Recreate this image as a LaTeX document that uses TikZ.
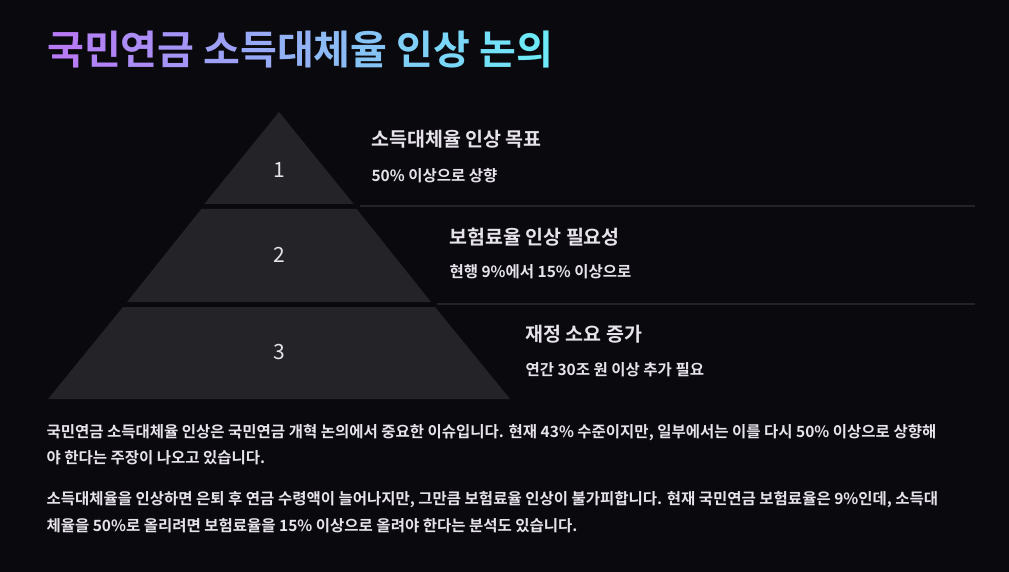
\documentclass[tikz,border=0pt]{standalone}
\usepackage{fontspec}
\setmainfont{Noto Sans CJK KR}[BoldFont={* Bold}]
\definecolor{bg}{HTML}{0A090E}
\definecolor{tier}{HTML}{242327}
\definecolor{txt}{HTML}{E6E3EA}
\definecolor{cA}{HTML}{B77BF5}
\definecolor{cB}{HTML}{6EE9F7}
\begin{document}
\begin{tikzpicture}[x=1pt,y=-1pt,
  tierbox/.style={fill=tier,draw=none},
  num/.style={text=txt,font=\fontsize{21}{21}\selectfont},
  head/.style={text=txt,anchor=west,font=\bfseries\fontsize{19.5}{19.5}\selectfont},
  sub/.style={text=txt,anchor=west,font=\bfseries\fontsize{15.5}{15.5}\selectfont},
  para/.style={text=txt,anchor=west,font=\bfseries\fontsize{15.5}{15.5}\selectfont},
  sep/.style={draw=tier,line width=1.5pt}]
\fill[bg] (0,0) rectangle (1009,572);
\useasboundingbox (0,0) rectangle (1009,572);
\node[anchor=west,inner sep=0,font=\bfseries\fontsize{40}{40}\selectfont] (title) at (47,50)
 {\textcolor{cA}{국}\textcolor{cB!8!cA}{민}\textcolor{cB!16!cA}{연}\textcolor{cB!24!cA}{금} \textcolor{cB!34!cA}{소}\textcolor{cB!42!cA}{득}\textcolor{cB!50!cA}{대}\textcolor{cB!58!cA}{체}\textcolor{cB!66!cA}{율} \textcolor{cB!76!cA}{인}\textcolor{cB!84!cA}{상} \textcolor{cB!93!cA}{논}\textcolor{cB}{의}};
\fill[tierbox] (279,112) -- (353.7,204) -- (204.3,204) -- cycle;
\fill[tierbox] (201.3,209) -- (356.7,209) -- (431,302) -- (127,302) -- cycle;
\fill[tierbox] (123,307) -- (435,307) -- (510,399) -- (48,399) -- cycle;
\node[num] (n1) at (279,170) {1};
\node[num] (n2) at (279,255) {2};
\node[num] (n3) at (279,352) {3};
\coordinate (l1a) at (360,206); \coordinate (l1b) at (975,206);
\coordinate (l2a) at (437,304); \coordinate (l2b) at (975,304);
\draw[sep] (l1a) -- (l1b);
\draw[sep] (l2a) -- (l2b);
\node[head] (h1) at (368,139) {소득대체율 인상 목표};
\node[sub] (s1) at (368,176) {50\% 이상으로 상향};
\node[head] (h2) at (446,237) {보험료율 인상 필요성};
\node[sub] (s2) at (446,272) {현행 9\%에서 15\% 이상으로};
\node[head] (h3) at (522,334) {재정 소요 증가};
\node[sub] (s3) at (522,370) {연간 30조 원 이상 추가 필요};
\node[para] (p1) at (43,433) {국민연금 소득대체율 인상은 국민연금 개혁 논의에서 중요한 이슈입니다. 현재 43\% 수준이지만, 일부에서는 이를 다시 50\% 이상으로 상향해};
\node[para] (p2) at (43,458) {야 한다는 주장이 나오고 있습니다.};
\node[para] (p3) at (43,500) {소득대체율을 인상하면 은퇴 후 연금 수령액이 늘어나지만, 그만큼 보험료율 인상이 불가피합니다. 현재 국민연금 보험료율은 9\%인데, 소득대};
\node[para] (p4) at (43,526) {체율을 50\%로 올리려면 보험료율을 15\% 이상으로 올려야 한다는 분석도 있습니다.};
\end{tikzpicture}
\end{document}
